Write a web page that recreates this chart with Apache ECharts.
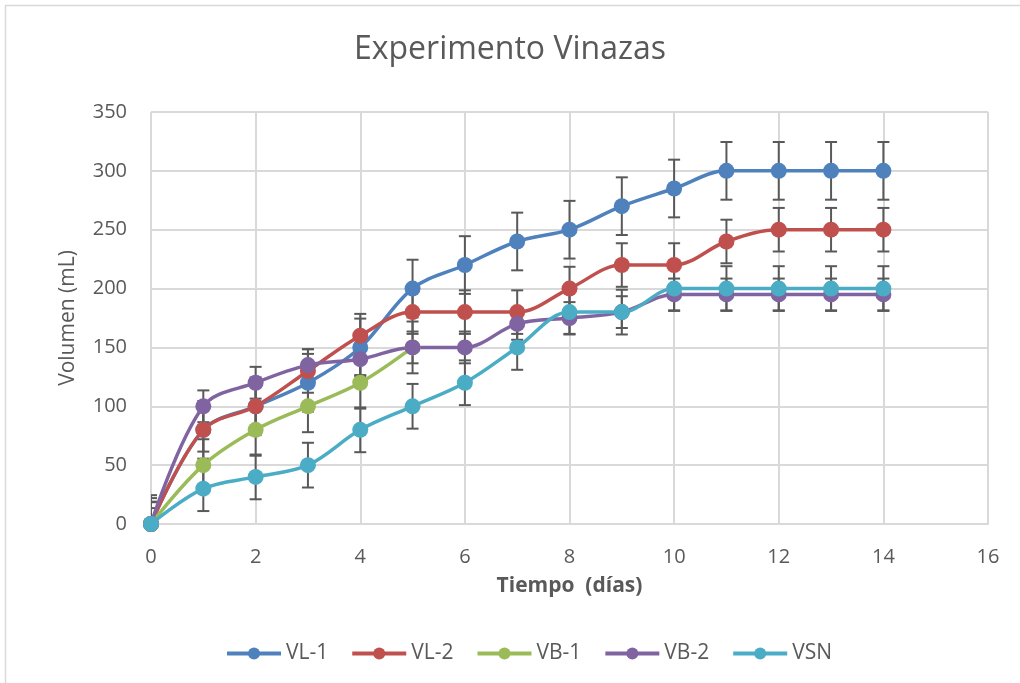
<!DOCTYPE html>
<html>
<head>
<meta charset="utf-8">
<script src="https://cdn.jsdelivr.net/npm/echarts@6/dist/echarts.min.js"></script>
<style>
  html, body { margin: 0; padding: 0; background: #fff; }
  #chart { width: 1020px; height: 683px; }
</style>
</head>
<body>
<div id="chart"></div>
<script>
var days = [0, 1, 2, 3, 4, 5, 6, 7, 8, 9, 10, 11, 12, 13, 14];
var names = ['VL-1', 'VL-2', 'VB-1', 'VB-2', 'VSN'];
var colors = ['#4F81BD', '#C0504D', '#9BBB59', '#8064A2', '#4BACC6'];

var vl1 = [0, 80, 100, 120, 150, 200, 220, 240, 250, 270, 285, 300, 300, 300, 300];
var vl2 = [0, 80, 100, 130, 160, 180, 180, 180, 200, 220, 220, 240, 250, 250, 250];
var vb1 = [0, 50, 80, 100, 120, 150];
var vb2 = [0, 100, 120, 135, 140, 150, 150, 170, 175, 180, 195, 195, 195, 195, 195];
var vsn = [0, 30, 40, 50, 80, 100, 120, 150, 180, 180, 200, 200, 200, 200, 200];

// error (+/-) per series, same for every point
var errors = [24.5, 18.5, 22, 13.5, 19];

var yTicks = [0, 50, 100, 150, 200, 250, 300, 350];

var seriesValues = [vl1, vl2, vb1, vb2, vsn];
var font = '"Open Sans", "Noto Sans", sans-serif';

var myChart = echarts.init(document.getElementById('chart'));

var series = [];
seriesValues.forEach(function (vals, i) {
    var pts = vals.map(function (v, k) { return [days[k], v]; });
    // error bars
    series.push({
        type: 'custom',
        name: names[i] + ' err',
        z: 1,
        silent: true,
        clip: true,
        data: pts.map(function (p) { return [p[0], p[1] - errors[i], p[1] + errors[i]]; }),
        renderItem: function (params, api) {
            var x = api.value(0);
            var lo = api.coord([x, api.value(1)]);
            var hi = api.coord([x, api.value(2)]);
            var w = 6;
            var style = { stroke: '#595959', lineWidth: 2 };
            return {
                type: 'group',
                children: [
                    { type: 'line', shape: { x1: lo[0], y1: lo[1], x2: hi[0], y2: hi[1] }, style: style },
                    { type: 'line', shape: { x1: lo[0] - w, y1: lo[1], x2: lo[0] + w, y2: lo[1] }, style: style },
                    { type: 'line', shape: { x1: hi[0] - w, y1: hi[1], x2: hi[0] + w, y2: hi[1] }, style: style }
                ]
            };
        }
    });
    series.push({
        type: 'line',
        name: names[i],
        z: 3,
        data: pts,
        smooth: 0.35,
        symbol: 'circle',
        symbolSize: 16,
        lineStyle: { width: 3.5, color: colors[i] },
        itemStyle: { color: colors[i] }
    });
});

var option = {
    backgroundColor: '#fff',
    animation: false,
    title: {
        text: 'Experimento Vinazas',
        left: 'center',
        top: 29,
        textStyle: { fontFamily: font, fontSize: 32, fontWeight: 'normal', color: '#595959' }
    },
    legend: {
        data: names,
        top: 638,
        left: 220,
        itemWidth: 54,
        itemHeight: 15,
        itemGap: 22,
        lineStyle: { width: 4 },
        textStyle: { fontFamily: font, fontSize: 21, color: '#595959' }
    },
    grid: { left: 151, right: 32, top: 112, bottom: 159 },
    xAxis: {
        type: 'value',
        min: 0, max: 16, interval: 2,
        name: 'Tiempo  (días)',
        nameLocation: 'middle',
        nameGap: 52,
        nameTextStyle: { fontFamily: font, fontSize: 21, fontWeight: 'bold', color: '#595959' },
        axisLine: { show: true, lineStyle: { color: '#d9d9d9', width: 2 } },
        axisTick: { show: false },
        axisLabel: { margin: 23, fontFamily: font, fontSize: 20, color: '#595959' },
        splitLine: { show: true, lineStyle: { color: '#d9d9d9', width: 2 } }
    },
    yAxis: {
        type: 'value',
        min: yTicks[0], max: yTicks[yTicks.length - 1], interval: 50,
        name: 'Volumen (mL)',
        nameLocation: 'middle',
        nameGap: 72,
        nameTextStyle: { fontFamily: font, fontSize: 21, color: '#595959' },
        axisLine: { show: false },
        axisTick: { show: false },
        axisLabel: { margin: 24, fontFamily: font, fontSize: 20, color: '#595959' },
        splitLine: { show: true, lineStyle: { color: '#d9d9d9', width: 2 } }
    },
    graphic: [{
        type: 'rect',
        silent: true,
        shape: { x: 5.5, y: 5.5, width: 1030, height: 700 },
        style: { fill: 'none', stroke: '#d9d9d9', lineWidth: 1.5 }
    }],
    series: series
};
myChart.setOption(option);
</script>
</body>
</html>
